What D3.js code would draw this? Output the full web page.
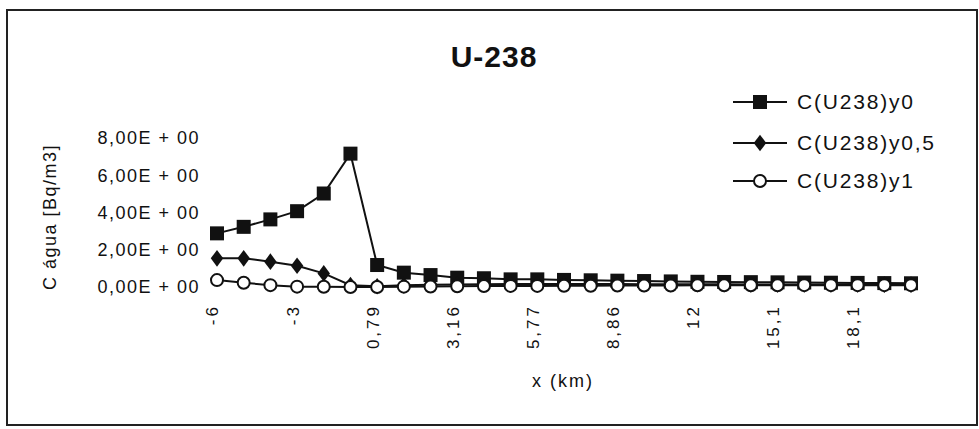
<!DOCTYPE html>
<html>
<head>
<meta charset="utf-8">
<script src="https://d3js.org/d3.v7.min.js"></script>
<style>
  body { margin: 0; background: #fff; }
  text { font-family: "Liberation Sans", Arial, sans-serif; fill: #111; }
</style>
</head>
<body>
<div id="chart"></div>
<script>
// x categories (km), only every 3rd one is labelled in the original
var xKm = ["-6","-5","-4","-3","-2","-1","0,79","1,58","2,37","3,16","4,03","4,9","5,77","6,8","7,83","8,86",
           "9,9","10,9","12","13","14,1","15,1","16,1","17,1","18,1","19,1","20,1"];
var yTicks = [0, 2, 4, 6, 8];
var seriesNames = ["C(U238)y0", "C(U238)y0,5", "C(U238)y1"];
var y0   = [2.88, 3.23, 3.63, 4.07, 5.02, 7.16, 1.18, 0.77, 0.64, 0.50, 0.47, 0.41, 0.41, 0.38, 0.36, 0.34,
            0.32, 0.30, 0.28, 0.27, 0.26, 0.25, 0.24, 0.23, 0.22, 0.21, 0.20];
var y05  = [1.54, 1.54, 1.36, 1.14, 0.73, 0.10, 0.04, 0.10, 0.12, 0.14, 0.15, 0.16, 0.16, 0.16, 0.16, 0.16,
            0.15, 0.15, 0.15, 0.15, 0.14, 0.14, 0.14, 0.14, 0.14, 0.13, 0.13];
var y1   = [0.37, 0.23, 0.10, 0.02, 0.01, 0.00, 0.00, 0.02, 0.03, 0.04, 0.05, 0.06, 0.06, 0.07, 0.07, 0.08,
            0.08, 0.08, 0.09, 0.09, 0.09, 0.09, 0.10, 0.10, 0.10, 0.10, 0.10];

(function(){
    var width = 979,
        height = 429;

    var svg = d3.select("#chart")
      .append("svg")
      .attr("width", width)
      .attr("height", height);

    // outer frame
    svg.append("rect")
      .attr("x", 7).attr("y", 10)
      .attr("width", 970).attr("height", 415)
      .attr("fill", "none")
      .attr("stroke", "#222")
      .attr("stroke-width", 2);

    var xScale = d3.scalePoint().domain(d3.range(xKm.length)).range([217, 911]);
    var yScale = d3.scaleLinear().domain([0, 8]).range([287, 138]);

    svg.append("text")
      .attr("x", 494).attr("y", 67)
      .attr("text-anchor", "middle")
      .attr("font-size", 30)
      .attr("font-weight", "bold")
      .attr("letter-spacing", 1)
      .text("U-238");

    // y axis
    var yAxis = d3.axisLeft(yScale)
      .tickValues(yTicks)
      .tickSize(0)
      .tickPadding(0)
      .tickFormat(function(d){ return d.toFixed(2).replace(".", ",") + "E + 00"; });
    var gy = svg.append("g").attr("transform", "translate(200,0)").call(yAxis);
    gy.select(".domain").remove();
    gy.selectAll("text")
      .attr("font-size", 18)
      .attr("letter-spacing", 1.5)
      .attr("font-family", "'Liberation Sans', Arial, sans-serif")
      .attr("fill", "#111");

    svg.append("text")
      .attr("transform", "translate(56,217) rotate(-90)")
      .attr("text-anchor", "middle")
      .attr("font-size", 18)
      .attr("letter-spacing", 1.5)
      .text("C água [Bq/m3]");

    // x axis
    var xAxis = d3.axisBottom(xScale)
      .tickSize(0)
      .tickFormat(function(i){ return i % 3 == 0 ? xKm[i] : ""; });
    var gx = svg.append("g").attr("transform", "translate(0,304)").call(xAxis);
    gx.select(".domain").remove();
    gx.selectAll("text")
      .attr("font-size", 17)
      .attr("letter-spacing", 3)
      .attr("font-family", "'Liberation Sans', Arial, sans-serif")
      .attr("fill", "#111")
      .attr("text-anchor", "end")
      .attr("transform", "rotate(-90)")
      .attr("x", 0).attr("y", -5)
      .attr("dx", 0).attr("dy", "0.35em");

    svg.append("text")
      .attr("x", 563).attr("y", 387)
      .attr("text-anchor", "middle")
      .attr("font-size", 18)
      .attr("letter-spacing", 2)
      .text("x (km)");

    var line = d3.line()
      .x(function(d, i){ return xScale(i); })
      .y(function(d){ return yScale(d); });

    var allSeries = [y0, y05, y1];
    var diamond = d3.symbol().type(d3.symbolDiamond).size(80);

    allSeries.forEach(function(vals, k){
      svg.append("path")
        .datum(vals)
        .attr("d", line)
        .attr("fill", "none")
        .attr("stroke", "#111")
        .attr("stroke-width", 2);

      var g = svg.append("g");
      vals.forEach(function(v, i){
        drawMarker(g, k, xScale(i), yScale(v));
      });
    });

    function drawMarker(g, k, cx, cy) {
      if (k == 0) {
        g.append("rect")
          .attr("x", cx - 7).attr("y", cy - 7)
          .attr("width", 14).attr("height", 14)
          .attr("fill", "#111");
      } else if (k == 1) {
        g.append("path")
          .attr("d", diamond)
          .attr("transform", "translate(" + cx + "," + cy + ") scale(1.3,1)")
          .attr("fill", "#111");
      } else {
        g.append("circle")
          .attr("cx", cx).attr("cy", cy).attr("r", 6)
          .attr("fill", "#fff")
          .attr("stroke", "#111")
          .attr("stroke-width", 2);
      }
    }

    // legend
    var legend = svg.append("g");
    seriesNames.forEach(function(name, k){
      var ly = [102, 143, 181][k];
      legend.append("line")
        .attr("x1", 733).attr("x2", 787)
        .attr("y1", ly).attr("y2", ly)
        .attr("stroke", "#111")
        .attr("stroke-width", 2);
      drawMarker(legend, k, 760, ly);
      legend.append("text")
        .attr("x", 797).attr("y", ly)
        .attr("dy", "0.35em")
        .attr("font-size", 21)
        .attr("letter-spacing", 1.8)
        .text(name);
    });
})();
</script>
</body>
</html>
